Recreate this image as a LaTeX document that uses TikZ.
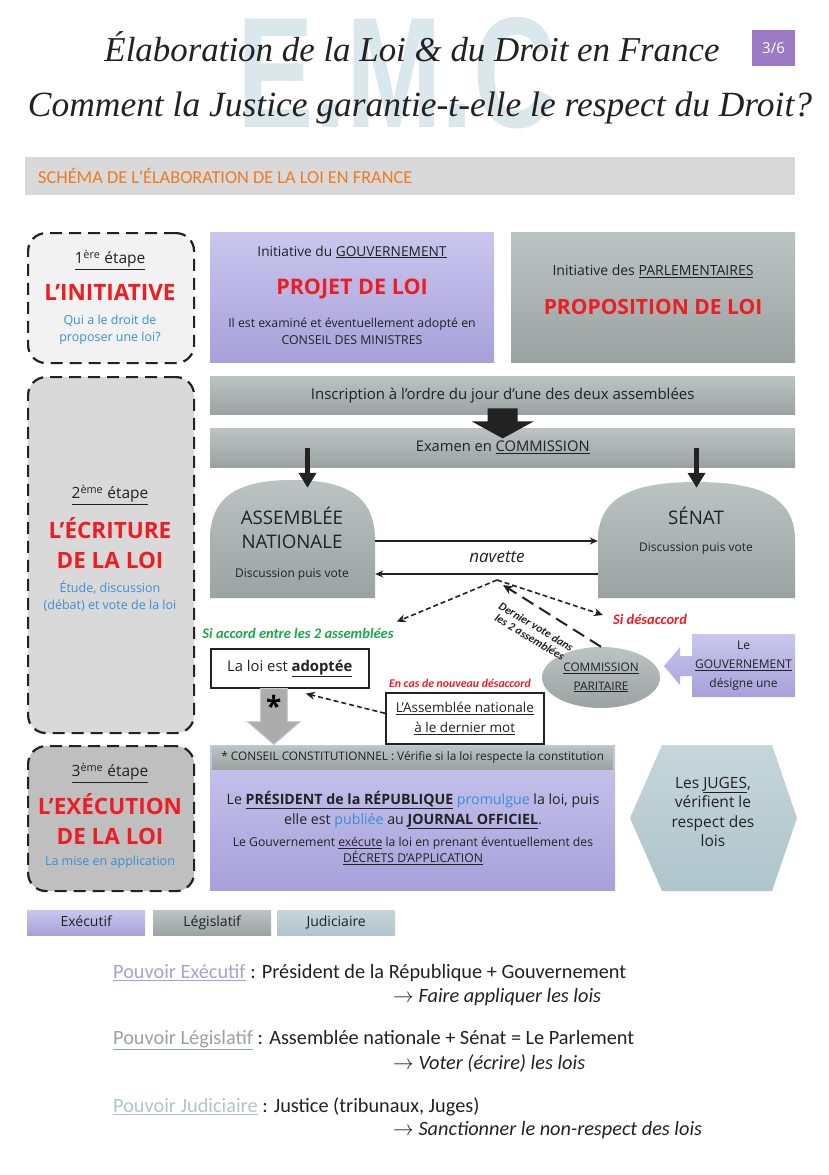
\documentclass[tikz,border=0pt]{standalone}
\usepackage{fontspec}
\usepackage{graphicx}
\setmainfont{Open Sans}
\newfontfamily\condfont{Carlito}
\newfontfamily\titlefont{Liberation Serif}
\newfontfamily\emcfont{Liberation Sans}
\usetikzlibrary{shapes.geometric,arrows.meta}

\definecolor{violetH}{HTML}{C9C6EE}
\definecolor{violetB}{HTML}{A7A1D9}
\definecolor{grisH}{HTML}{BCC3C3}
\definecolor{grisB}{HTML}{9AA2A2}
\definecolor{jugeH}{HTML}{C6D6DB}
\definecolor{jugeB}{HTML}{AFC4CB}
\definecolor{rouge}{HTML}{EE1D23}
\definecolor{bleu}{HTML}{3B8ED6}
\definecolor{vert}{HTML}{1DA54B}
\definecolor{orangeT}{HTML}{F07A22}
\definecolor{pourpre}{HTML}{9B7BC6}
\definecolor{emcbleu}{HTML}{DAE7ED}
\definecolor{noir}{HTML}{222222}

\newcommand\fsz[2]{\fontsize{#1}{#2}\selectfont}
\newcommand\decfont{\condfont\bfseries\itshape}

\begin{document}
\begin{tikzpicture}[x=1pt,y=-1pt,
  txt/.style={inner sep=0pt, align=center, text=noir},
  etapebox/.style={draw=noir, line width=2.2pt, dash pattern=on 12pt off 7pt, rounded corners=18pt, anchor=north west},
  execbox/.style={top color=violetH, bottom color=violetB, anchor=north west, text=noir},
  legisbox/.style={top color=grisH, bottom color=grisB, anchor=north west, text=noir},
  jugebox/.style={top color=jugeH, bottom color=jugeB, anchor=north west, text=noir},
  cadre/.style={draw=noir, line width=1.6pt, fill=white, inner sep=0pt, align=center, text=noir, anchor=north west},
  fleche/.style={draw=noir, line width=1.3pt, -{Stealth[length=8pt,width=7pt]}},
  pointille/.style={draw=noir, line width=1.6pt, dash pattern=on 5pt off 3pt, -{Stealth[length=9pt,width=8pt]}},
  longtiret/.style={draw=noir, line width=2pt, dash pattern=on 13pt off 7pt, -{Stealth[length=10pt,width=9pt]}},
  grosse/.style={draw=noir, line width=5pt, -{Triangle[length=15pt,width=17pt]}},
  decision/.style={inner sep=0pt, align=center}]

\fill[white] (0,0) rectangle (828,1175);
\useasboundingbox (0,0) rectangle (828,1175);

% titre
\node[txt, text=emcbleu] (emc) at (397,73) {\resizebox{318pt}{110pt}{\emcfont\bfseries E.M.C}};
\node[txt] (t1) at (412,47) {\resizebox{615pt}{!}{\titlefont\itshape Élaboration de la Loi \& du Droit en France}};
\node[txt] (t2) at (420,108) {\resizebox{784pt}{!}{\titlefont\itshape Comment la Justice garantie-t-elle le respect du Droit?}};
\node[fill=pourpre, text=white, minimum width=43, minimum height=36, inner sep=0pt, font=\fsz{15}{18}] (page) at (773.5,48) {3/6};

\node[fill=gray!30, minimum width=770, minimum height=38, anchor=north west, inner sep=0pt] (head) at (25,157) {};
\node[inner sep=0pt, anchor=west, text=orangeT, font=\condfont\fsz{18.3}{21}] (headt) at (38,176) {SCHÉMA DE L'ÉLABORATION DE LA LOI EN FRANCE};

% etape 1
\node[etapebox, fill=gray!10, minimum width=166, minimum height=130] (e1) at (27,232) {};
\node[txt, font=\fsz{15.5}{18}] (e1a) at (110,260) {\underline{1\textsuperscript{ère} étape}};
\node[txt, text=rouge, font=\fsz{22.5}{26}\bfseries] (e1b) at (110,292) {L'INITIATIVE};
\node[txt, text=bleu, font=\fsz{12.5}{17}] (e1c) at (110,330) {Qui a le droit de\\proposer une loi?};

\node[execbox, minimum width=284, minimum height=130] (projet) at (210,232) {};
\node[txt, font=\fsz{13.7}{16}] (pj1) at (352,252) {Initiative du \underline{GOUVERNEMENT}};
\node[txt, text=rouge, font=\fsz{21.5}{25}\bfseries] (pj2) at (352,289) {PROJET DE LOI};
\node[txt, font=\fsz{12.3}{17}] (pj3) at (352,331) {Il est examiné et éventuellement adopté en\\CONSEIL DES MINISTRES};

\node[legisbox, minimum width=284, minimum height=130] (propo) at (511,232) {};
\node[txt, font=\fsz{14}{16}] (pp1) at (653,271) {Initiative des \underline{PARLEMENTAIRES}};
\node[txt, text=rouge, font=\fsz{21}{25}\bfseries] (pp2) at (653,307) {PROPOSITION DE LOI};

% etape 2
\node[etapebox, fill=gray!30, minimum width=166, minimum height=356] (e2) at (27,376) {};
\node[txt, font=\fsz{15.5}{18}] (e2a) at (110,495) {\underline{2\textsuperscript{ème} étape}};
\node[txt, text=rouge, font=\fsz{22.5}{30}\bfseries] (e2b) at (110,543) {L'ÉCRITURE\\DE LA LOI};
\node[txt, text=bleu, font=\fsz{12.5}{17}] (e2c) at (110,596) {Étude, discussion\\(débat) et vote de la loi};

\node[legisbox, minimum width=585, minimum height=38, font=\fsz{15}{17}] (insc) at (210,376) {Inscription à l'ordre du jour d'une des deux assemblées};
\node[legisbox, minimum width=585, minimum height=39, font=\fsz{14.7}{17}] (exam) at (210,428) {Examen en \underline{COMMISSION}};
\fill[noir] ([yshift=6pt]insc.south) ++(-15,0) -- ++(0,13) -- ++(-16,0) -- ++(31,17) -- ++(31,-17) -- ++(-16,0) -- ++(0,-13) -- cycle;

% assemblees
\shade[top color=grisH, bottom color=grisB] (210,598) -- (210,540) .. controls (210,495) and (240,480) .. (292,480) .. controls (345,480) and (375,495) .. (375,540) -- (375,598) -- cycle;
\shade[top color=grisH, bottom color=grisB] (598,598) -- (598,540) .. controls (598,496) and (635,482) .. (696,482) .. controls (758,482) and (795,496) .. (795,540) -- (795,598) -- cycle;
\node[minimum width=165, minimum height=118, inner sep=0pt] (an) at (292.5,539) {};
\node[minimum width=197, minimum height=116, inner sep=0pt] (sen) at (696.5,540) {};
\node[txt, font=\fsz{18.7}{24}] (an1) at (292,528) {ASSEMBLÉE\\NATIONALE};
\node[txt, font=\fsz{12}{14}] (an2) at (292,575) {Discussion puis vote};
\node[txt, font=\fsz{18.7}{22}] (sen1) at (696,516) {SÉNAT};
\node[txt, font=\fsz{12}{14}] (sen2) at (696,549) {Discussion puis vote};

\draw[grosse] ([xshift=15pt]an.north |- exam.center) -- ([xshift=15pt,yshift=-8pt]an.north);
\draw[grosse] (sen.north |- exam.center) -- ([yshift=-6pt]sen.north);

\draw[fleche] ([yshift=-2pt]an.east) -- ([yshift=-1pt]sen.west);
\draw[fleche] ([yshift=-34pt]sen.west) -- ([yshift=-35pt]an.east);
\node[txt, font=\fsz{17}{19}\itshape] (nav) at (497,557) {navette};
\coordinate (split) at (497,580);

% accord / desaccord
\node[decision, text=vert, font=\decfont\fsz{14.5}{17}] (acc) at (298,633) {Si accord entre les 2 assemblées};
\node[decision, text=rouge, font=\decfont\fsz{14.5}{17}] (desacc) at (650,619) {Si désaccord};
\draw[pointille] (split) -- ([xshift=3pt,yshift=6pt]acc.north east);
\draw[pointille] (split) -- ([xshift=-10pt,yshift=4pt]desacc.west);

\node[ellipse, top color=grisH, bottom color=grisB, minimum width=118, minimum height=61, inner sep=0pt, align=center, text=noir, font=\fsz{11.8}{19}] (cmp) at (601,677.5) {\underline{COMMISSION}\\\underline{PARITAIRE}};
\draw[longtiret] (cmp.north) -- ([xshift=6pt,yshift=-5pt]split);
\node[decision, rotate=-31, text=noir, font=\decfont\fsz{11.5}{12.5}] (dv) at (533,632) {Dernier vote dans\\les 2 assemblées};

\shade[top color=violetH, bottom color=violetB] (795,634) -- (692,634) -- (692,656) -- (680,656) -- (680,647) -- (664,666) -- (680,685) -- (680,676) -- (692,676) -- (692,697) -- (795,697) -- cycle;
\node[txt, font=\fsz{12}{19}] (gouv) at (743.5,666) {Le\\\underline{GOUVERNEMENT}\\désigne une};

\node[cadre, minimum width=158, minimum height=39, font=\fsz{14.8}{17}] (adopt) at (210,648) {La loi est \underline{\textbf{adoptée}}};
\node[decision, text=rouge, font=\decfont\fsz{11.8}{14}] (nouv) at (460,683) {En cas de nouveau désaccord};
\node[cadre, minimum width=158, minimum height=51, font=\fsz{13.5}{20}] (dm) at (385,692) {\underline{L'Assemblée nationale}\\\underline{à le dernier mot}};

% execution
\node[execbox, minimum width=405, minimum height=145] (exec) at (210,745) {};
\node[legisbox, anchor=north, minimum width=401, minimum height=23, inner sep=0pt, font=\fsz{11.8}{13}] (cc) at ([yshift=-1pt]exec.north) {* CONSEIL CONSTITUTIONNEL : Vérifie si la loi respecte la constitution};
\filldraw[fill=gray!65, draw=gray!40, line width=1pt] ([xshift=-16pt]adopt.south) ++(-13.5,0) -- ++(0,33) -- ++(-13,0) -- ++(26.5,23) -- ++(26.5,-23) -- ++(-13,0) -- ++(0,-33) -- cycle;
\node[txt, text=black, font=\fsz{28}{28}\bfseries] (star) at ([xshift=-16pt,yshift=-17pt]adopt.south) {*};
\draw[pointille] ([yshift=5pt]dm.west) -- ([xshift=16pt,yshift=-5pt]adopt.south);

\node[txt, font=\fsz{14.2}{20}] (pres) at (413,810) {Le \underline{\textbf{PRÉSIDENT de la RÉPUBLIQUE}} \textcolor{bleu}{promulgue} la loi, puis\\elle est \textcolor{bleu}{publiée} au \underline{\textbf{JOURNAL OFFICIEL}}.};
\node[txt, font=\fsz{12.2}{16}] (decr) at (413,851) {Le Gouvernement \underline{exécute} la loi en prenant éventuellement des\\\underline{DÉCRETS D'APPLICATION}};

\shade[top color=jugeH, bottom color=jugeB] (662,745) -- (772,745) -- (797,818) -- (772,891) -- (662,891) -- (630,818) -- cycle;
\node[txt, font=\fsz{15.5}{19.5}] (juges) at (713,812) {Les \underline{JUGES},\\vérifient le\\respect des\\lois};

% etape 3
\node[etapebox, fill=gray!50, minimum width=166, minimum height=145] (e3) at (27,745) {};
\node[txt, font=\fsz{15.5}{18}] (e3a) at (110,773) {\underline{3\textsuperscript{ème} étape}};
\node[txt, text=rouge, font=\fsz{22.5}{30}\bfseries] (e3b) at (110,819) {L'EXÉCUTION\\DE LA LOI};
\node[txt, text=bleu, font=\fsz{12.5}{14}] (e3c) at (110,862) {La mise en application};

% legende
\foreach \x/\lab/\boite [count=\i] in {27/Exécutif/execbox, 153/Législatif/legisbox, 277/Judiciaire/jugebox}
  \node[\boite, minimum width=118, minimum height=25, inner sep=0pt, text height=10pt, text depth=3pt, font=\fsz{14}{16}] (leg\i) at (\x,910) {\lab};

% pouvoirs
\node[inner sep=0pt, anchor=west, text=noir, font=\condfont\fsz{20.3}{24}] (p1) at (113,973) {\textcolor{violetB}{\underline{Pouvoir Exécutif}} : Président de la République + Gouvernement};
\node[inner sep=0pt, anchor=west, text=noir, font=\condfont\itshape\fsz{20.3}{24}] (p1b) at (393,997) {$\rightarrow$ Faire appliquer les lois};
\node[inner sep=0pt, anchor=west, text=noir, font=\condfont\fsz{20.3}{24}] (p2) at (113,1040) {\textcolor{grisB}{\underline{Pouvoir Législatif}} : Assemblée nationale + Sénat = Le Parlement};
\node[inner sep=0pt, anchor=west, text=noir, font=\condfont\itshape\fsz{20.3}{24}] (p2b) at (393,1063) {$\rightarrow$ Voter (écrire) les lois};
\node[inner sep=0pt, anchor=west, text=noir, font=\condfont\fsz{20.3}{24}] (p3) at (113,1107) {\textcolor{jugeB}{\underline{Pouvoir Judiciaire}} : Justice (tribunaux, Juges)};
\node[inner sep=0pt, anchor=west, text=noir, font=\condfont\itshape\fsz{20.3}{24}] (p3b) at (393,1130) {$\rightarrow$ Sanctionner le non-respect des lois};

\end{tikzpicture}
\end{document}
